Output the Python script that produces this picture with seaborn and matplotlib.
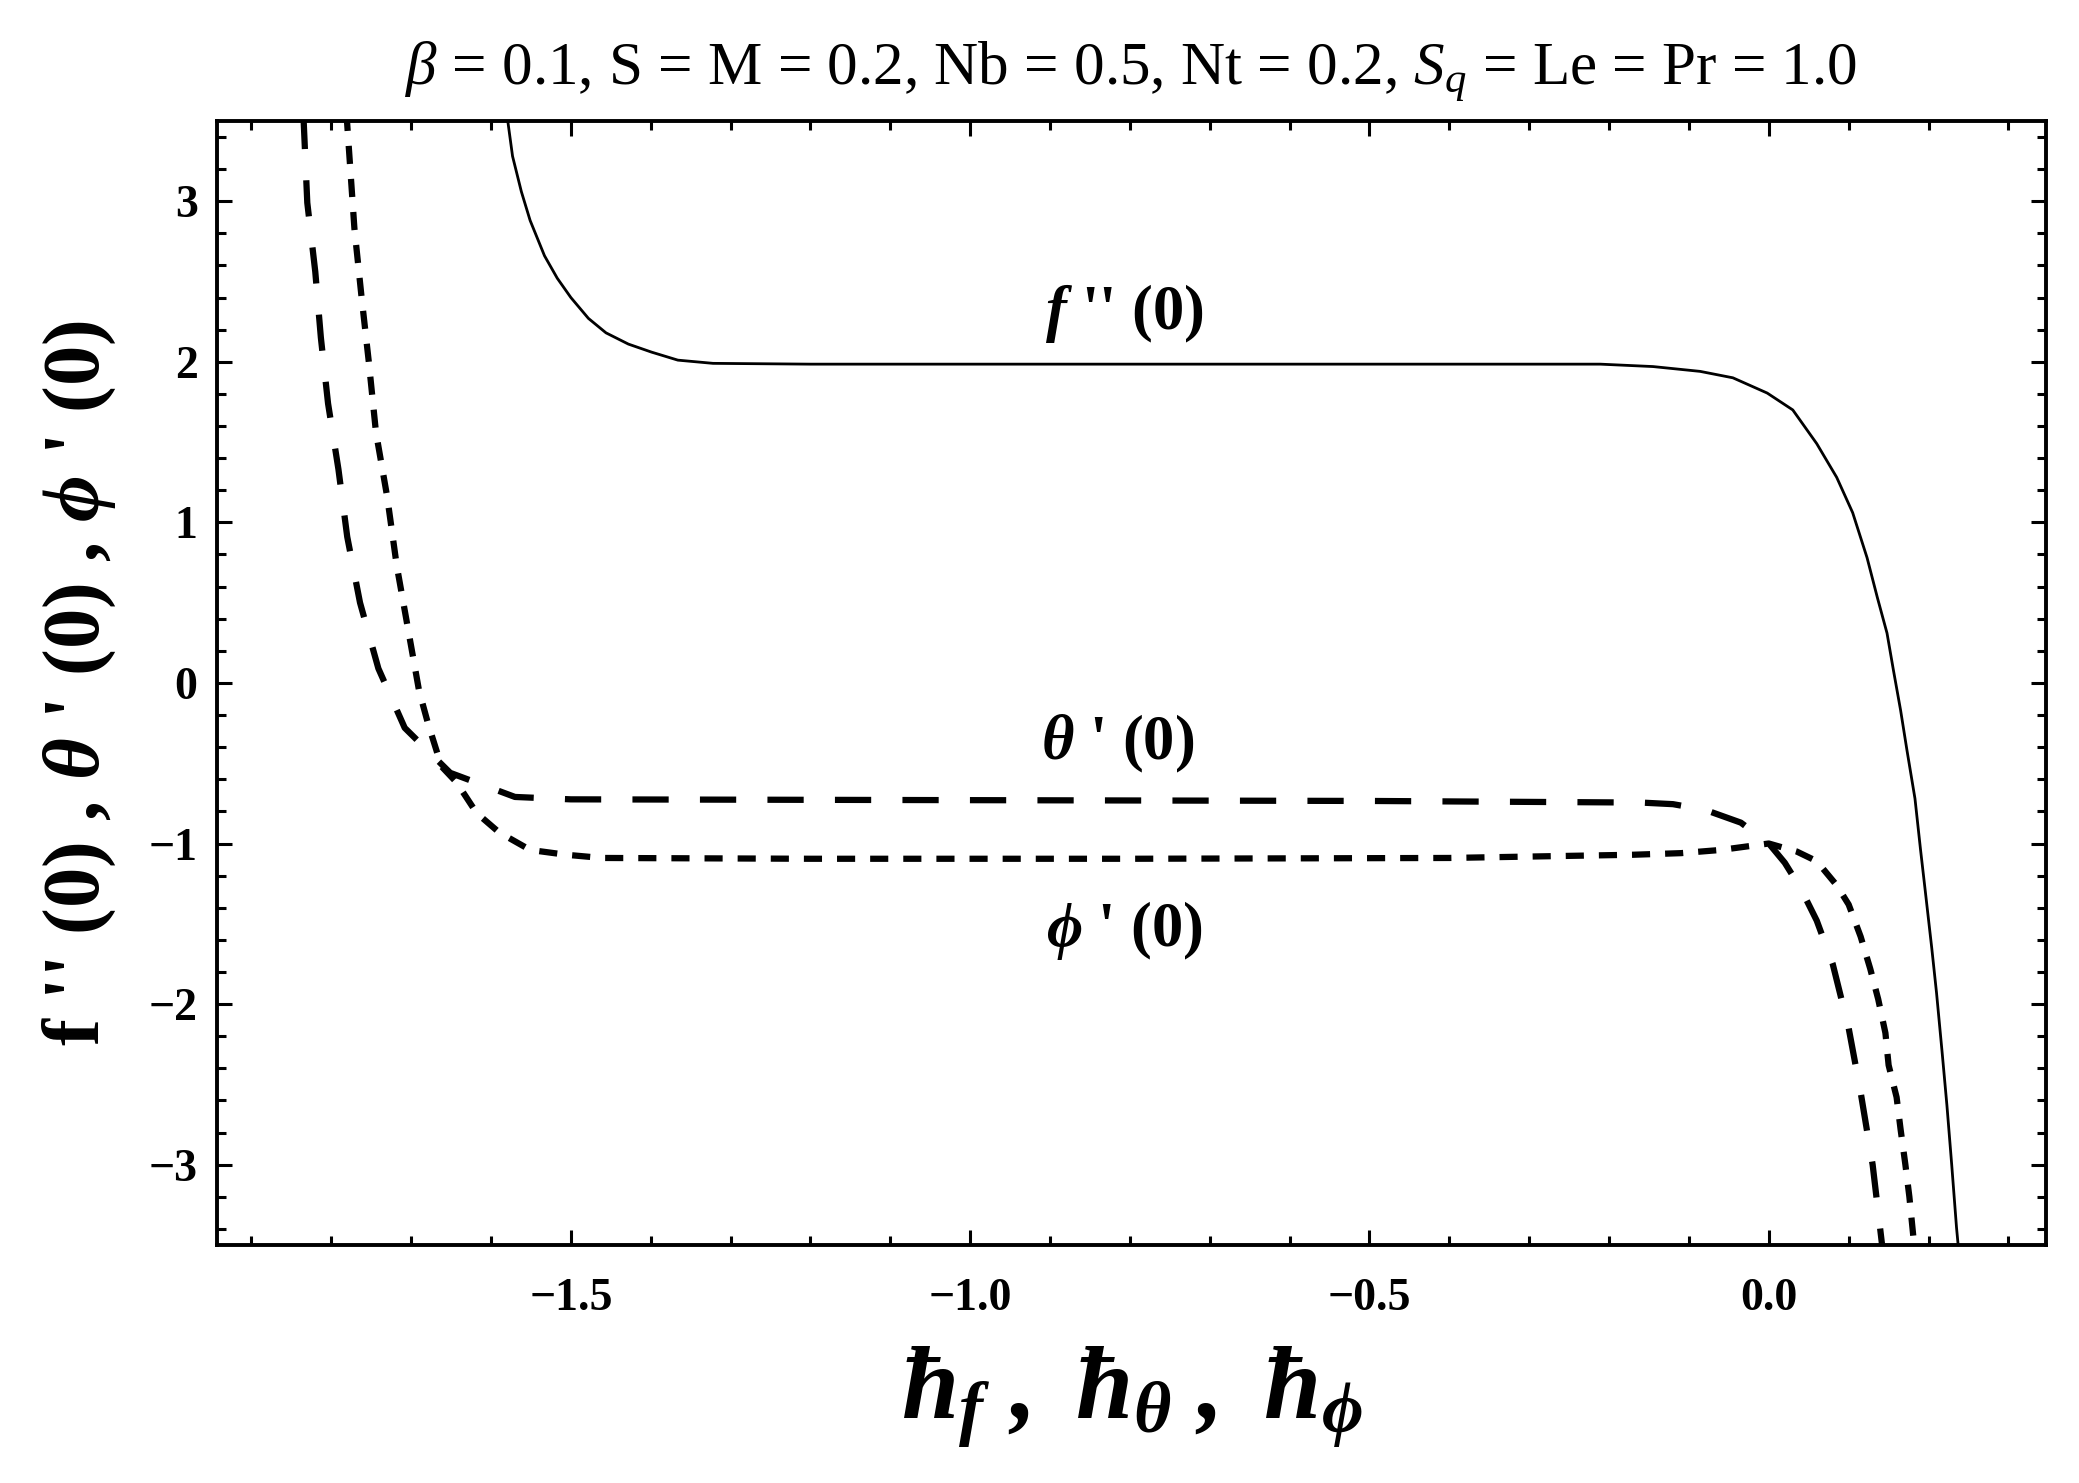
import matplotlib
matplotlib.use("Agg")
import matplotlib.pyplot as plt
import seaborn as sns
from matplotlib.ticker import MultipleLocator, FuncFormatter

# f''(0) 実線
f_x = [-1.579, -1.573, -1.562, -1.551, -1.533, -1.517, -1.500, -1.478, -1.456, -1.428,
       -1.399, -1.366, -1.322, -1.20, -0.80, -0.40, -0.211, -0.145, -0.086, -0.045,
       -0.002, 0.030, 0.060, 0.085, 0.105, 0.123, 0.136, 0.148, 0.156, 0.165,
       0.173, 0.183, 0.190, 0.196, 0.204, 0.210, 0.217, 0.223, 0.229, 0.235, 0.238]
f_y = [3.5, 3.28, 3.06, 2.88, 2.66, 2.52, 2.40, 2.27, 2.18, 2.11,
       2.06, 2.01, 1.99, 1.985, 1.985, 1.985, 1.985, 1.97, 1.94, 1.90,
       1.805, 1.70, 1.49, 1.28, 1.06, 0.78, 0.53, 0.31, 0.08, -0.17,
       -0.42, -0.72, -1.04, -1.30, -1.65, -1.93, -2.30, -2.63, -3.0, -3.39, -3.55]

# theta'(0) 長い破線
t_x = [-1.835, -1.830, -1.820, -1.813, -1.804, -1.791, -1.780, -1.764, -1.741, -1.708,
       -1.651, -1.570, -1.50, -1.0, -0.5, -0.16, -0.12, -0.08, -0.035, 0.0,
       0.02, 0.04, 0.06, 0.08, 0.10, 0.115, 0.13, 0.143]
t_y = [3.55, 2.99, 2.56, 2.15, 1.74, 1.33, 0.91, 0.50, 0.09, -0.28,
       -0.56, -0.71, -0.725, -0.73, -0.735, -0.745, -0.755, -0.79, -0.87, -1.0,
       -1.12, -1.28, -1.48, -1.75, -2.15, -2.55, -3.0, -3.55]

# phi'(0) 短い破線
p_x = [-1.781, -1.771, -1.762, -1.753, -1.744, -1.730, -1.718, -1.704, -1.690, -1.679,
       -1.662, -1.643, -1.618, -1.590, -1.551, -1.506, -1.461, -1.2, -0.8, -0.4,
       -0.17, -0.11, -0.06, -0.03, 0.0, 0.035, 0.06, 0.075, 0.085, 0.10,
       0.115, 0.127, 0.137, 0.146, 0.150, 0.16, 0.165, 0.171, 0.176, 0.183]
p_y = [3.55, 2.83, 2.40, 2.00, 1.56, 1.16, 0.73, 0.34, -0.05, -0.25,
       -0.52, -0.62, -0.81, -0.93, -1.04, -1.07, -1.09, -1.095, -1.095, -1.09,
       -1.07, -1.06, -1.04, -1.02, -1.0, -1.05, -1.11, -1.20, -1.26, -1.38,
       -1.58, -1.78, -1.97, -2.18, -2.38, -2.58, -2.78, -3.0, -3.2, -3.55]

x_ticks = [-1.5, -1.0, -0.5, 0.0]
y_ticks = [-3, -2, -1, 0, 1, 2, 3]

sns.set_style("ticks")
plt.rcParams['font.family'] = ['Liberation Serif', 'DejaVu Serif']
plt.rcParams['mathtext.fontset'] = 'custom'
plt.rcParams['mathtext.rm'] = 'Liberation Serif'
plt.rcParams['mathtext.it'] = 'Liberation Serif:italic'
plt.rcParams['mathtext.bf'] = 'Liberation Serif:bold:italic'
for k in ['text.color', 'axes.labelcolor', 'xtick.color', 'ytick.color', 'axes.edgecolor']:
    plt.rcParams[k] = 'black'

fig = plt.figure(figsize=(20.79, 14.83), dpi=100)
ax = fig.add_axes([0.1044, 0.1605, 0.8797, 0.758])

sns.lineplot(x=f_x, y=f_y, color='black', lw=2.0, estimator=None, sort=False, ax=ax)
sns.lineplot(x=t_x, y=t_y, color='black', lw=4.5, estimator=None, sort=False,
             linestyle=(0, (5.8, 5.0)), ax=ax)
sns.lineplot(x=p_x, y=p_y, color='black', lw=4.5, estimator=None, sort=False,
             linestyle=(0, (2.9, 2.4)), ax=ax)

ax.set_xlim(-1.943, 0.347)
ax.set_ylim(-3.5, 3.5)
ax.set_xticks(x_ticks)
ax.set_yticks(y_ticks)
ax.xaxis.set_major_formatter(FuncFormatter(lambda v, p: f"{v:.1f}".replace('-', '\u2212')))
ax.yaxis.set_major_formatter(FuncFormatter(lambda v, p: f"{v:.0f}".replace('-', '\u2212')))
ax.xaxis.set_minor_locator(MultipleLocator(0.1))
ax.yaxis.set_minor_locator(MultipleLocator(0.2))
ax.tick_params(which='both', direction='in', top=True, right=True, width=2.2)
ax.tick_params(which='major', length=11)
ax.tick_params(which='minor', length=6.5)
ax.tick_params(axis='x', pad=24)
ax.tick_params(axis='y', pad=14)
for lab in ax.get_xticklabels() + ax.get_yticklabels():
    lab.set_fontsize(33)
    lab.set_fontweight('bold')
for sp in ax.spines.values():
    sp.set_linewidth(2.8)

# 曲線ラベル
ax.text(-0.807, 2.30, r"$\mathbf{f}$ '' (0)", fontsize=45, fontweight='bold', ha='center', va='center')
ax.text(-0.815, -0.38, r"$\mathbf{\theta}$ ' (0)", fontsize=45, fontweight='bold', ha='center', va='center')
ax.text(-0.807, -1.54, r"$\mathbf{\phi}$ ' (0)", fontsize=45, fontweight='bold', ha='center', va='center')

ax.set_title(r"$\beta$ = 0.1, S = M = 0.2, Nb = 0.5, Nt = 0.2, $S_q$ = Le = Pr = 1.0",
             fontsize=44, pad=26)
ax.set_xlabel(r"$\mathbf{\hbar_f\ ,\ \hbar_\theta\ ,\ \hbar_\phi}$", fontsize=74, labelpad=18)
ax.set_ylabel(r"f '' (0) , $\mathbf{\theta}$ ' (0) , $\mathbf{\phi}$ ' (0)",
              fontsize=58, fontweight='bold', labelpad=22)

plt.savefig("out.png", dpi=100, facecolor='white')
